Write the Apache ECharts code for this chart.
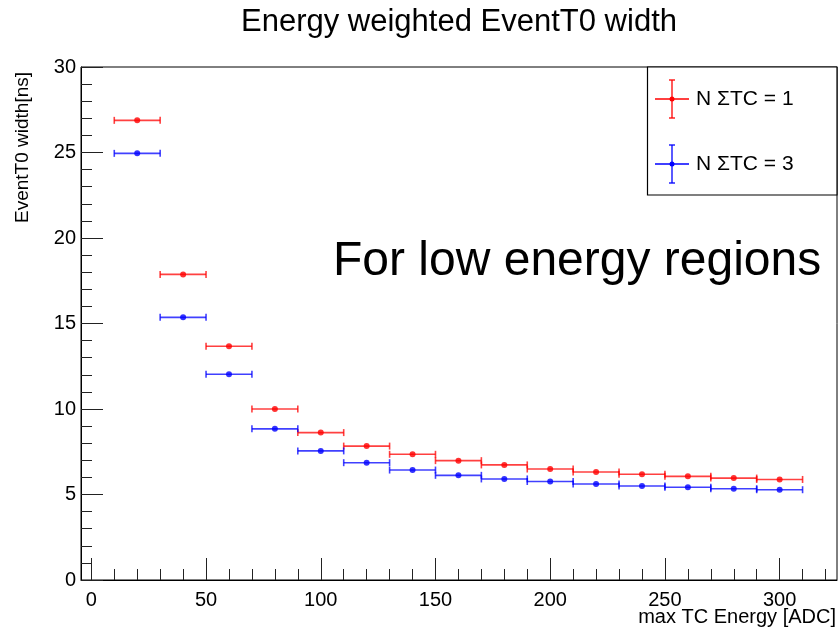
<!DOCTYPE html>
<html>
<head>
<meta charset="utf-8">
<script src="https://cdn.jsdelivr.net/npm/echarts@6/dist/echarts.min.js"></script>
<style>
html,body{margin:0;padding:0;background:#fff;}
#chart{width:839px;height:627px;}
</style>
</head>
<body>
<div id="chart"></div>
<script>
// ---- data ----
var binCenters = [20, 40, 60, 80, 100, 120, 140, 160, 180, 200, 220, 240, 260, 280, 300];
var binHalfWidth = 10;
var widthN1 = [26.88, 17.87, 13.67, 10.0, 8.62, 7.83, 7.35, 6.98, 6.73, 6.49, 6.32, 6.18, 6.06, 5.96, 5.88];
var widthN3 = [24.95, 15.36, 12.03, 8.84, 7.55, 6.86, 6.43, 6.12, 5.91, 5.76, 5.61, 5.50, 5.42, 5.34, 5.28];
var xMajorTicks = [0, 50, 100, 150, 200, 250, 300];
var xMinorTicks = [10, 20, 30, 40, 60, 70, 80, 90, 110, 120, 130, 140, 160, 170, 180, 190, 210, 220, 230, 240, 260, 270, 280, 290, 310, 320];
var seriesNames = ['N \u03A3TC = 1', 'N \u03A3TC = 3'];

var FONT = '"Liberation Sans", Arial, Helvetica, sans-serif';
var RED = '#ff0000', BLUE = '#0000ff';

function errData(vals) {
  return binCenters.map(function (c, i) { return [c, vals[i], c - binHalfWidth, c + binHalfWidth]; });
}
function renderErr(color) {
  return function (params, api) {
    var y = api.value(1);
    var p0 = api.coord([api.value(2), y]);
    var p1 = api.coord([api.value(3), y]);
    var st = { stroke: color, lineWidth: 1.6, opacity: 0.75 };
    return {
      type: 'group',
      children: [
        { type: 'line', shape: { x1: p0[0], y1: p0[1], x2: p1[0], y2: p1[1] }, style: st },
        { type: 'line', shape: { x1: p0[0], y1: p0[1] - 3.5, x2: p0[0], y2: p0[1] + 3.5 }, style: st },
        { type: 'line', shape: { x1: p1[0], y1: p1[1] - 3.5, x2: p1[0], y2: p1[1] + 3.5 }, style: st }
      ]
    };
  };
}

function legendItem(cx, cy, color, label) {
  var st = { stroke: color, lineWidth: 1.3 };
  return [
    { type: 'line', z: 20, shape: { x1: cx - 17, y1: cy, x2: cx + 17, y2: cy }, style: st },
    { type: 'line', z: 20, shape: { x1: cx, y1: cy - 19, x2: cx, y2: cy + 19 }, style: st },
    { type: 'line', z: 20, shape: { x1: cx - 3, y1: cy - 19, x2: cx + 3, y2: cy - 19 }, style: st },
    { type: 'line', z: 20, shape: { x1: cx - 3, y1: cy + 19, x2: cx + 3, y2: cy + 19 }, style: st },
    { type: 'circle', z: 21, shape: { cx: cx, cy: cy, r: 2.5 }, style: { fill: color } },
    { type: 'text', z: 21, x: cx + 24, y: cy, style: { text: label, fill: '#000', font: '21px ' + FONT, align: 'left', verticalAlign: 'middle' } }
  ];
}

var chart = echarts.init(document.getElementById('chart'));
var option = {
  backgroundColor: '#fff',
  animation: false,
  grid: { left: 81, right: 2, top: 67, bottom: 47, show: true, borderColor: '#000', borderWidth: 1, backgroundColor: 'transparent' },
  xAxis: [
    {
      type: 'value', min: -4.5, max: 325, position: 'bottom',
      axisLine: { show: true, onZero: false, lineStyle: { color: '#000', width: 1 } },
      axisTick: { show: true, inside: true, length: 22, customValues: xMajorTicks, lineStyle: { color: '#222', width: 1 } },
      axisLabel: { show: true, customValues: xMajorTicks, margin: 10, color: '#000', fontSize: 20, fontFamily: FONT },
      splitLine: { show: false }
    },
    {
      type: 'value', min: -4.5, max: 325, position: 'bottom', gridIndex: 0,
      axisLine: { show: false },
      axisTick: { show: true, inside: true, length: 11, customValues: xMinorTicks, lineStyle: { color: '#222', width: 1 } },
      axisLabel: { show: false },
      splitLine: { show: false }
    }
  ],
  yAxis: {
    type: 'value', min: 0, max: 30, interval: 5,
    axisLine: { show: true, onZero: false, lineStyle: { color: '#000', width: 1 } },
    axisTick: { show: true, inside: true, length: 22, lineStyle: { color: '#222', width: 1 } },
    minorTick: { show: true, splitNumber: 5, length: 11, lineStyle: { color: '#222', width: 1 } },
    axisLabel: { show: true, margin: 5, color: '#000', fontSize: 20, fontFamily: FONT },
    splitLine: { show: false }
  },
  series: [
    { name: seriesNames[0], type: 'custom', xAxisIndex: 0, renderItem: renderErr(RED), data: errData(widthN1), encode: { x: [0, 2, 3], y: 1 }, z: 2 },
    { name: seriesNames[0], type: 'scatter', xAxisIndex: 0, data: binCenters.map(function (c, i) { return [c, widthN1[i]]; }), symbolSize: 6, itemStyle: { color: RED }, z: 3 },
    { name: seriesNames[1], type: 'custom', xAxisIndex: 0, renderItem: renderErr(BLUE), data: errData(widthN3), encode: { x: [0, 2, 3], y: 1 }, z: 2 },
    { name: seriesNames[1], type: 'scatter', xAxisIndex: 0, data: binCenters.map(function (c, i) { return [c, widthN3[i]]; }), symbolSize: 6, itemStyle: { color: BLUE }, z: 3 }
  ],
  graphic: [
    { type: 'text', x: 459, y: 22, style: { text: 'Energy weighted EventT0 width', fill: '#000', font: '31px ' + FONT, align: 'center', verticalAlign: 'middle' } },
    { type: 'text', x: 23, y: 72, rotation: Math.PI / 2, style: { text: 'EventT0 width[ns]', fill: '#000', font: '19px ' + FONT, align: 'right', verticalAlign: 'middle' } },
    { type: 'text', x: 836, y: 617, style: { text: 'max TC Energy [ADC]', fill: '#000', font: '20px ' + FONT, align: 'right', verticalAlign: 'middle' } },
    { type: 'text', x: 333, y: 262, style: { text: 'For low energy regions', fill: '#000', font: '48px ' + FONT, align: 'left', verticalAlign: 'middle' } },
    { type: 'rect', z: 10, shape: { x: 647.5, y: 67, width: 189.5, height: 128 }, style: { fill: '#fff', stroke: '#000', lineWidth: 1.2 } }
  ].concat(legendItem(672, 99, RED, seriesNames[0])).concat(legendItem(672, 164, BLUE, seriesNames[1]))
};
chart.setOption(option);
</script>
</body>
</html>
